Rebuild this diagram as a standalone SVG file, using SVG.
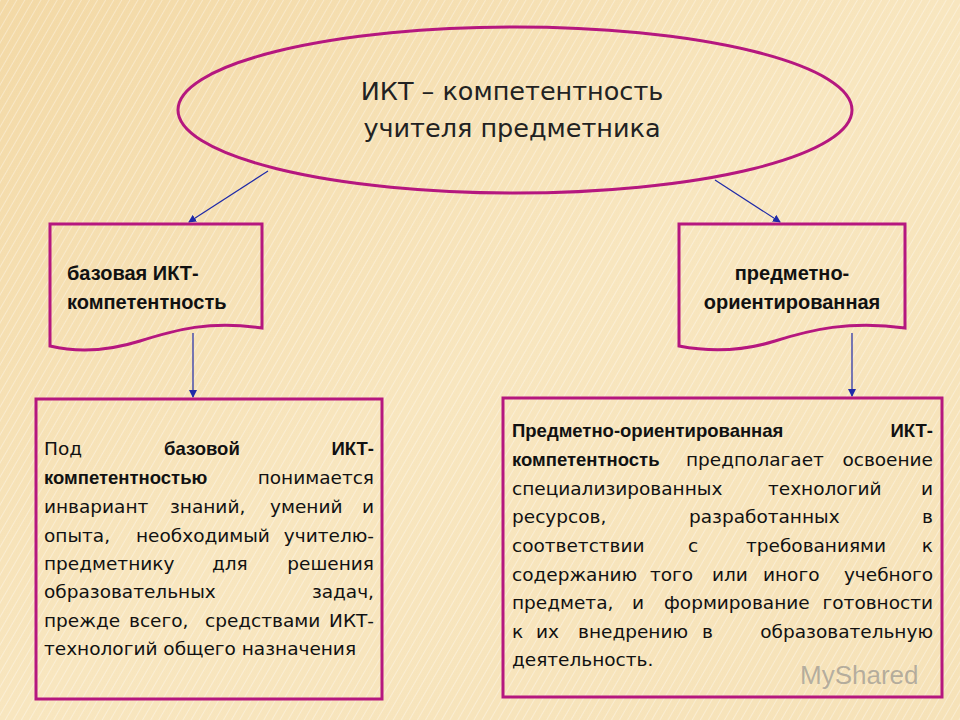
<svg xmlns="http://www.w3.org/2000/svg" width="960" height="720" viewBox="0 0 960 720">
<defs>
<linearGradient id="bg" x1="0" y1="0" x2="1" y2="1"><stop offset="0" stop-color="#f3d9a6"/><stop offset="0.5" stop-color="#f8e6bf"/><stop offset="1" stop-color="#f6e2b8"/></linearGradient>
<pattern id="st" width="7" height="7" patternUnits="userSpaceOnUse" patternTransform="rotate(30)"><line x1="0" y1="0" x2="0" y2="7" stroke="#ffffff" stroke-opacity="0.35" stroke-width="2"/></pattern>
<marker id="ar" markerWidth="8" markerHeight="8" refX="7" refY="4" orient="auto" markerUnits="userSpaceOnUse"><path d="M0,0 L8,4 L0,8 Z" fill="#1f2aa8"/></marker>
</defs>
<style>
.sh{fill:none;stroke:#b5177f;stroke-width:3}
.t{font-family:"DejaVu Sans",Verdana,sans-serif;font-size:18.5px;fill:#111}
.b{font-family:"Liberation Sans",Arial,sans-serif;font-weight:bold;font-size:18.5px}
.l{font-family:"Liberation Sans",Arial,sans-serif;font-weight:bold;font-size:20px;fill:#111}
.h{font-family:"DejaVu Sans",Verdana,sans-serif;font-size:25.5px;fill:#222;text-anchor:middle}
.c{stroke:#1f2aa8;stroke-width:1.2;fill:none;marker-end:url(#ar)}
</style>
<rect width="960" height="720" fill="url(#bg)"/>
<rect width="960" height="720" fill="url(#st)"/>
<g id="connectors">
<line class="c" x1="268" y1="171" x2="189" y2="222"/>
<line class="c" x1="715" y1="180" x2="780" y2="222"/>
<line class="c" x1="193" y1="333" x2="193" y2="397"/>
<line class="c" x1="852" y1="333" x2="852" y2="396"/>
</g>
<g id="top">
<ellipse class="sh" cx="515" cy="110" rx="337" ry="83"/>
<text class="h" x="512" y="100">ИКТ – компетентность</text>
<text class="h" x="512" y="137">учителя предметника</text>
</g>
<g id="base">
<path class="sh" d="M50,224 H262 V328 C210,320 175,330 140,341 C105,352 75,352 50,346 Z"/>
<text class="l" x="67" y="280">базовая ИКТ-</text>
<text class="l" x="67" y="309">компетентность</text>
</g>
<g id="subject">
<path class="sh" d="M679,224 H905 V328 C850,320 810,330 775,341 C740,352 710,352 679,346 Z"/>
<text class="l" x="792" y="280" text-anchor="middle">предметно-</text>
<text class="l" x="792" y="309" text-anchor="middle">ориентированная</text>
</g>
<g id="leftdesc">
<rect class="sh" x="36" y="399" width="346" height="300"/>
<text class="t"><tspan x="44" y="455">Под</tspan><tspan class="b" x="164" y="455">базовой</tspan><tspan class="b" x="374" y="455" text-anchor="end">ИКТ-</tspan></text>
<text class="t"><tspan class="b" x="44" y="484">компетентностью</tspan><tspan x="374" y="484" text-anchor="end">понимается</tspan></text>
<text class="t"><tspan x="44" y="513">инвариант</tspan><tspan x="170" y="513">знаний,</tspan><tspan x="270" y="513">умений</tspan><tspan x="374" y="513" text-anchor="end">и</tspan></text>
<text class="t"><tspan x="44" y="542">опыта,</tspan><tspan x="136" y="542">необходимый</tspan><tspan x="374" y="542" text-anchor="end">учителю-</tspan></text>
<text class="t"><tspan x="44" y="570">предметнику</tspan><tspan x="212" y="570">для</tspan><tspan x="374" y="570" text-anchor="end">решения</tspan></text>
<text class="t"><tspan x="44" y="598">образовательных</tspan><tspan x="374" y="598" text-anchor="end">задач,</tspan></text>
<text class="t"><tspan x="44" y="627">прежде</tspan><tspan x="129" y="627">всего,</tspan><tspan x="205" y="627">средствами</tspan><tspan x="374" y="627" text-anchor="end">ИКТ-</tspan></text>
<text class="t" x="44" y="655">технологий общего назначения</text>
</g>
<g id="rightdesc">
<rect class="sh" x="503" y="398" width="439" height="299"/>
<text class="t"><tspan class="b" x="512" y="437">Предметно-ориентированная</tspan><tspan class="b" x="933" y="437" text-anchor="end">ИКТ-</tspan></text>
<text class="t"><tspan class="b" x="512" y="466">компетентность</tspan><tspan x="686" y="466">предполагает</tspan><tspan x="933" y="466" text-anchor="end">освоение</tspan></text>
<text class="t"><tspan x="512" y="495">специализированных</tspan><tspan x="768" y="495">технологий</tspan><tspan x="933" y="495" text-anchor="end">и</tspan></text>
<text class="t"><tspan x="512" y="523">ресурсов,</tspan><tspan x="689" y="523">разработанных</tspan><tspan x="933" y="523" text-anchor="end">в</tspan></text>
<text class="t"><tspan x="512" y="552">соответствии</tspan><tspan x="688" y="552">с</tspan><tspan x="746" y="552">требованиями</tspan><tspan x="933" y="552" text-anchor="end">к</tspan></text>
<text class="t"><tspan x="512" y="581">содержанию</tspan><tspan x="650" y="581">того</tspan><tspan x="712" y="581">или</tspan><tspan x="763" y="581">иного</tspan><tspan x="933" y="581" text-anchor="end">учебного</tspan></text>
<text class="t"><tspan x="512" y="609">предмета,</tspan><tspan x="632" y="609">и</tspan><tspan x="664" y="609">формирование</tspan><tspan x="933" y="609" text-anchor="end">готовности</tspan></text>
<text class="t"><tspan x="512" y="638">к</tspan><tspan x="536" y="638">их</tspan><tspan x="578" y="638">внедрению</tspan><tspan x="702" y="638">в</tspan><tspan x="933" y="638" text-anchor="end">образовательную</tspan></text>
<text class="t" x="512" y="666">деятельность.</text>
</g>
<text x="800" y="684" font-family="Liberation Sans,Arial,sans-serif" font-size="26" fill="#888" fill-opacity="0.6">MyShared</text>
</svg>
